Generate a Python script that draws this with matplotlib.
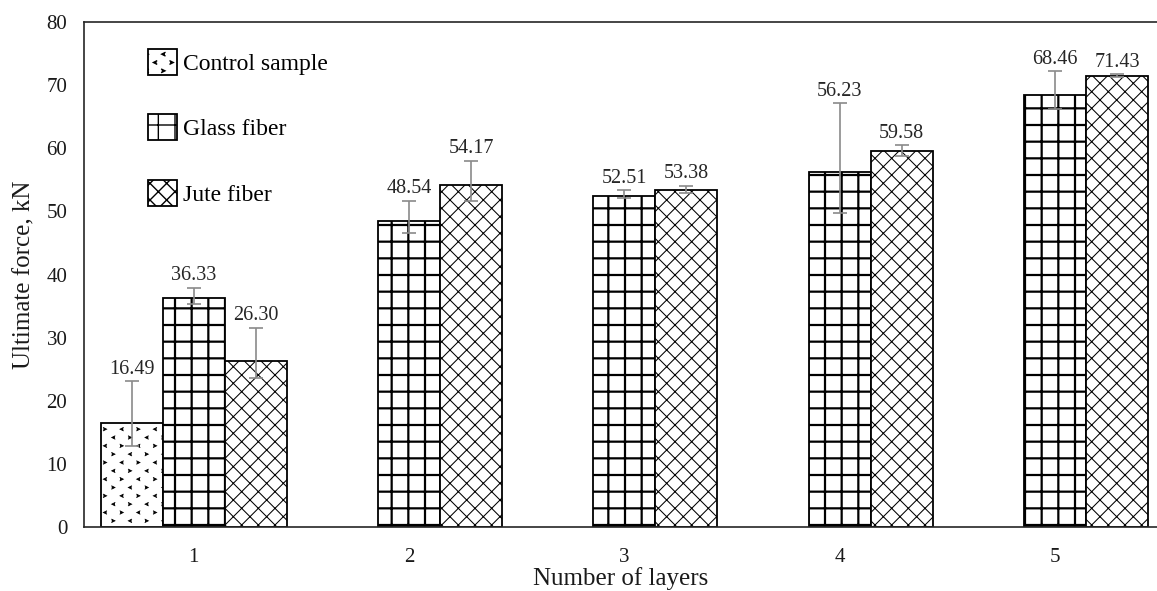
import numpy as np
import matplotlib
matplotlib.use("Agg")
import matplotlib.pyplot as plt
import matplotlib.hatch as mhatch
from matplotlib.path import Path

# ---- data ---------------------------------------------------------------
layers = ["1", "2", "3", "4", "5"]
series_names = ["Control sample", "Glass fiber", "Jute fiber"]

control = [16.49, np.nan, np.nan, np.nan, np.nan]
glass = [36.33, 48.54, 52.51, 56.23, 68.46]
jute = [26.30, 54.17, 53.38, 59.58, 71.43]

# asymmetric spread (below, above) of each mean
control_lo = [3.7, np.nan, np.nan, np.nan, np.nan]
control_hi = [6.6, np.nan, np.nan, np.nan, np.nan]
glass_lo = [1.0, 1.9, 0.4, 6.5, 2.3]
glass_hi = [1.6, 3.1, 0.8, 10.9, 3.7]
jute_lo = [2.75, 2.6, 0.5, 0.8, 0.1]
jute_hi = [5.25, 3.8, 0.7, 0.9, 0.3]


# ---- small chevron hatch for the control bars ('*' is re-purposed) -------
class ChevronHatch(mhatch.HatchPatternBase):
    cols, rows, size = 6, 12, 0.016

    def __init__(self, hatch, density):
        self.n = hatch.count("*")
        self.num_vertices = 3 * self.cols * self.rows if self.n else 0

    def set_vertices_and_codes(self, vertices, codes):
        k = 0
        s = self.size
        for i in range(self.rows):
            y = (i + 0.5) / self.rows
            shift = 0.5 / self.cols if i % 2 else 0.0
            for j in range(self.cols):
                x = (j + 0.3) / self.cols + shift
                d = 1 if (i // 2 + j) % 2 == 0 else -1
                vertices[k:k + 3] = [(x - d * s, y + s), (x + d * s, y),
                                     (x - d * s, y - s)]
                codes[k:k + 3] = [Path.MOVETO, Path.LINETO, Path.LINETO]
                k += 3


mhatch._hatch_types = [t for t in mhatch._hatch_types
                       if t is not mhatch.Stars] + [ChevronHatch]

# ---- figure -------------------------------------------------------------
plt.rcParams["font.family"] = ["Liberation Serif", "DejaVu Serif"]
plt.rcParams["hatch.color"] = "black"

fig = plt.figure(figsize=(11.57, 5.91), dpi=100)
ax = fig.add_axes([84 / 1157, 1 - 527 / 591, 1 - 84 / 1157, 505 / 591])

x = np.arange(len(layers))
w = 0.288

specs = [
    (control, control_lo, control_hi, -w, "*", 0.6),
    (glass, glass_lo, glass_hi, 0.0, "+", 1.6),
    (jute, jute_lo, jute_hi, w, "xx", 0.75),
]

handles = []
for (vals, lo, hi, off, hatch, hlw), name in zip(specs, series_names):
    vals = np.asarray(vals, float)
    lo = np.asarray(lo, float)
    hi = np.asarray(hi, float)
    m = ~np.isnan(vals)
    with plt.rc_context({"hatch.linewidth": hlw}):
        bars = ax.bar(x[m] + off, vals[m], width=w, color="white",
                      edgecolor="black", linewidth=1.3, hatch=hatch,
                      label=name, zorder=2)
        for p in bars:
            if hasattr(p, "set_hatch_linewidth"):
                p.set_hatch_linewidth(hlw)
    handles.append(bars)
    ax.errorbar(x[m] + off, vals[m], yerr=[lo[m], hi[m]], fmt="none",
                ecolor="#8a8a8a", elinewidth=1.2, capsize=5, capthick=1.2,
                zorder=3)
    for xi, v, h in zip(x[m] + off, vals[m], hi[m]):
        ax.annotate(f"{v:.2f}", (xi, v + h), xytext=(0, 5.5),
                    textcoords="offset points", ha="center", va="baseline",
                    fontsize=14.5, color="#262626")

ax.set_xlim(-0.51, 4.474)
ax.set_ylim(0, 80)
ax.set_yticks(np.arange(0, 81, 10))
ax.set_xticks(x)
ax.set_xticklabels(layers)
ax.tick_params(axis="both", length=0, labelsize=15, colors="#1a1a1a")
ax.tick_params(axis="y", pad=12)
ax.tick_params(axis="x", pad=15)

for side in ("left", "top", "bottom"):
    ax.spines[side].set_color("#262626")
    ax.spines[side].set_linewidth(1.2)
ax.spines["right"].set_visible(False)

ax.set_xlabel("Number of layers", fontsize=18, labelpad=0, color="#1a1a1a")
ax.set_ylabel("Ultimate force, kN", fontsize=18, labelpad=8, color="#1a1a1a")

leg = ax.legend(handles=handles, loc="upper left",
                bbox_to_anchor=((148 - 84) / 1073, (527 - 49) / 505),
                frameon=False, fontsize=17, handlelength=1.23,
                handleheight=1.3, handletextpad=0.25, labelspacing=1.68,
                borderpad=0, borderaxespad=0)

fig.savefig("out.png", dpi=100)
